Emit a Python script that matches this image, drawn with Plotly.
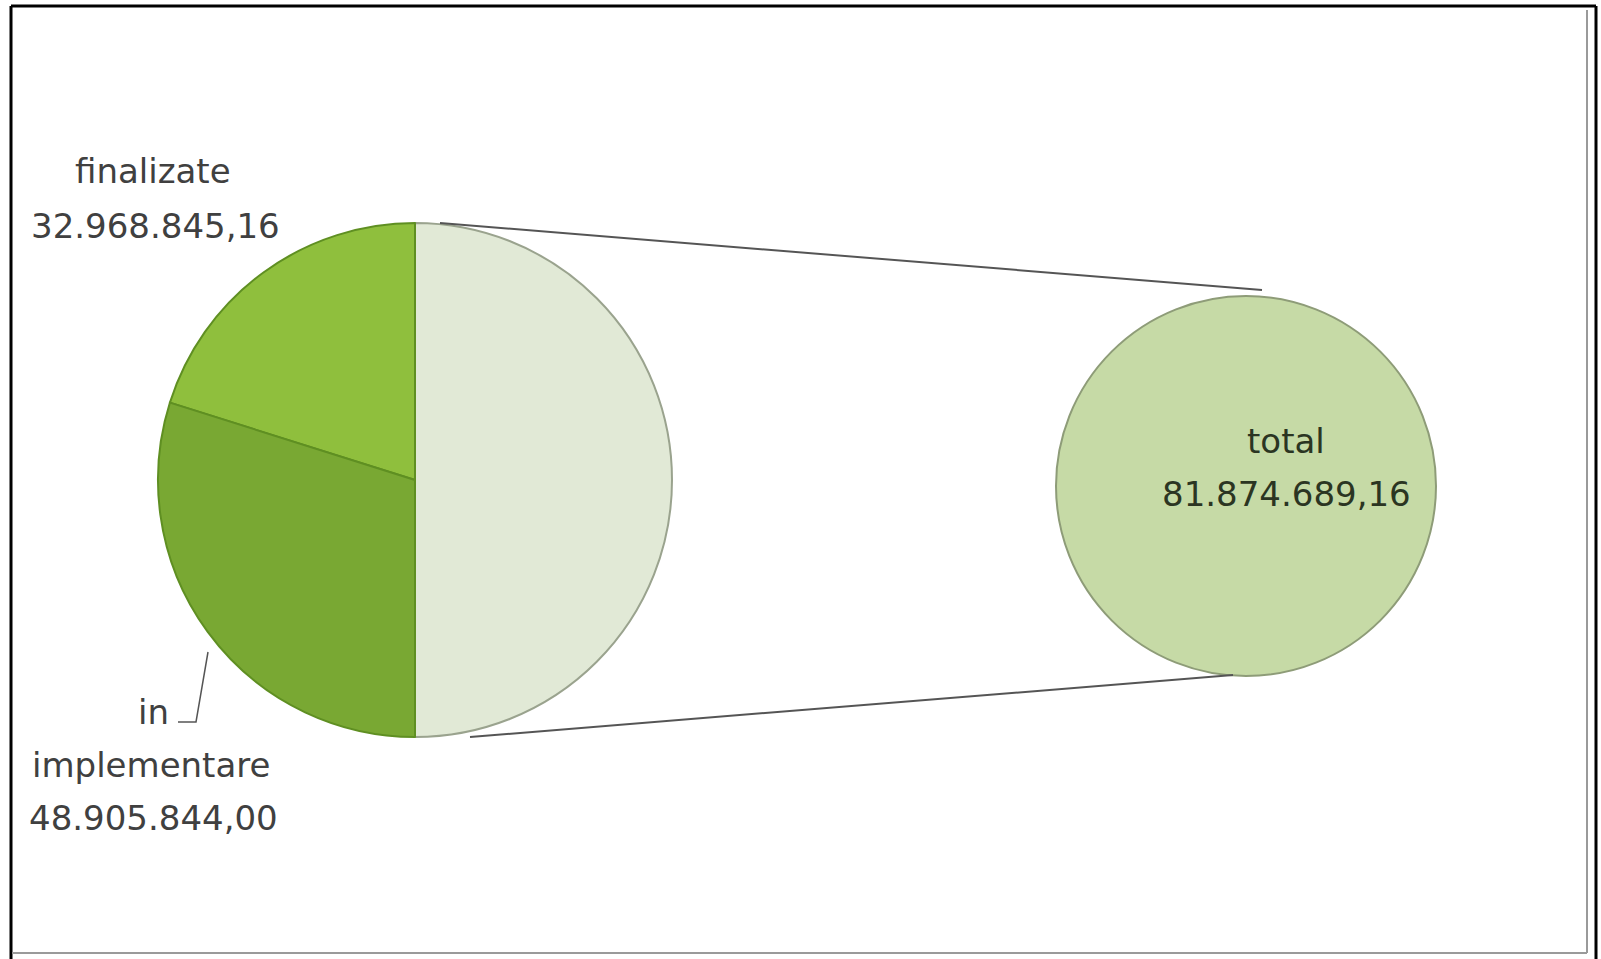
import plotly.graph_objects as go

# ---- data ----
left_labels = ["finalizate", "in implementare", "total"]
left_values = [32968845.16, 48905844.00, 81874689.16]
right_labels = ["total"]
right_values = [81874689.16]
slice_colors = ["#8fbf3d", "#79a833", "#e1e9d6"]
right_color = "#c6daa6"


def ro_fmt(v):
    s = f"{v:,.2f}"
    return s.replace(",", "X").replace(".", ",").replace("X", ".")


W, H = 1601, 959


def px(x):
    return x / W


def py(y):
    return 1 - y / H


# pie geometry (screen pixels)
L_CX, L_CY, L_R = 415, 480, 257
R_CX, R_CY, R_R = 1246, 486, 190

# drawing order: total (right half), then finalizate (top-left), then in implementare
order = [2, 0, 1]

fig = go.Figure()

fig.add_trace(go.Pie(
    labels=[left_labels[i] for i in order],
    values=[left_values[i] for i in order],
    sort=False,
    direction="counterclockwise",
    textinfo="none",
    hoverinfo="label+value",
    marker=dict(colors=[slice_colors[i] for i in order],
                line=dict(color=["#9aa38e", "#5f8f22", "#5f8f22"], width=2)),
    domain=dict(x=[px(L_CX - L_R), px(L_CX + L_R)],
                y=[py(L_CY + L_R), py(L_CY - L_R)]),
    showlegend=False,
))

fig.add_trace(go.Pie(
    labels=right_labels,
    values=right_values,
    sort=False,
    textinfo="none",
    hoverinfo="label+value",
    marker=dict(colors=[right_color], line=dict(color="#8e9c78", width=2)),
    domain=dict(x=[px(R_CX - R_R), px(R_CX + R_R)],
                y=[py(R_CY + R_R), py(R_CY - R_R)]),
    showlegend=False,
))

FONT = "DejaVu Sans"
FS = 34
GRAY = "#404040"

annots = []


def add_text(t, x, y, color=GRAY):
    annots.append(dict(text=t, x=px(x), y=py(y), xref="paper", yref="paper",
                       showarrow=False, xanchor="center", yanchor="middle",
                       font=dict(family=FONT, size=FS, color=color)))


# left labels
add_text(left_labels[0], 153, 171)
add_text(ro_fmt(left_values[0]), 155, 226)
add_text("in", 153, 712)
add_text(left_labels[1].split(" ", 1)[1], 151, 765)
add_text(ro_fmt(left_values[1]), 153, 818)
# right label
add_text(right_labels[0], 1286, 441, "#2b3522")
add_text(ro_fmt(right_values[0]), 1286, 494, "#2b3522")

shapes = []
# connector lines between the pies
shapes.append(dict(type="line", xref="paper", yref="paper",
                   x0=px(440), y0=py(223), x1=px(1262), y1=py(290),
                   line=dict(color="#555555", width=2)))
shapes.append(dict(type="line", xref="paper", yref="paper",
                   x0=px(470), y0=py(737), x1=px(1233), y1=py(675),
                   line=dict(color="#555555", width=2)))
# leader line for "in implementare"
shapes.append(dict(type="path", xref="paper", yref="paper",
                   path=f"M {px(178)} {py(722)} L {px(196)} {py(722)} L {px(208)} {py(652)}",
                   line=dict(color="#555555", width=1.5)))
# frame
shapes.append(dict(type="line", xref="paper", yref="paper",
                   x0=px(11), y0=py(6), x1=px(1596), y1=py(6),
                   line=dict(color="#000000", width=3)))
shapes.append(dict(type="line", xref="paper", yref="paper",
                   x0=px(11), y0=py(6), x1=px(11), y1=py(959),
                   line=dict(color="#000000", width=3)))
shapes.append(dict(type="line", xref="paper", yref="paper",
                   x0=px(1596), y0=py(6), x1=px(1596), y1=py(959),
                   line=dict(color="#000000", width=3)))
shapes.append(dict(type="line", xref="paper", yref="paper",
                   x0=px(1587), y0=py(10), x1=px(1587), y1=py(953),
                   line=dict(color="#9a9a9a", width=2)))
shapes.append(dict(type="line", xref="paper", yref="paper",
                   x0=px(12), y0=py(953), x1=px(1587), y1=py(953),
                   line=dict(color="#9a9a9a", width=2)))

fig.update_layout(
    width=W, height=H,
    margin=dict(l=0, r=0, t=0, b=0),
    paper_bgcolor="white",
    plot_bgcolor="white",
    annotations=annots,
    shapes=shapes,
)

fig.write_html(
    "out.html",
    config={"displayModeBar": False},
    post_script="document.body.style.margin='0';document.body.style.overflow='hidden';",
)
